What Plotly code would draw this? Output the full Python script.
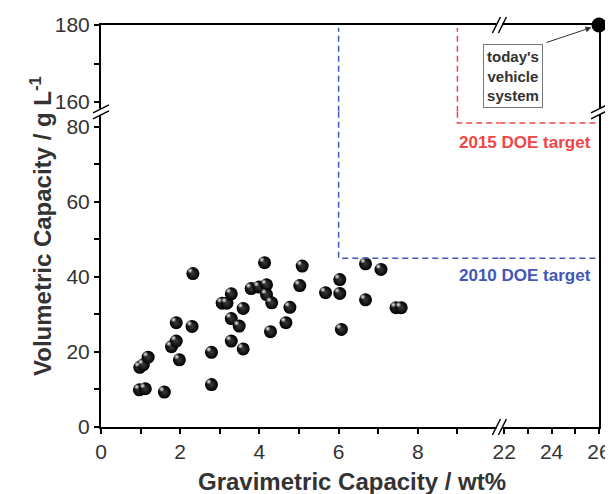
import plotly.graph_objects as go

# measured materials: gravimetric (wt%) and volumetric (g/L) capacities
grav = [0.97, 1.12, 1.60, 0.98, 1.07, 1.19, 1.78, 1.90, 1.98, 1.90, 2.30, 2.32,
        2.79, 2.79, 3.06, 3.18, 3.29, 3.29, 3.29, 3.49, 3.59, 3.59, 3.79, 3.99,
        4.13, 4.18, 4.18, 4.31, 4.28, 4.67, 4.77, 5.02, 5.08, 5.67, 6.03, 6.03,
        6.07, 6.68, 6.68, 7.07, 7.45, 7.58]
vol = [9.9, 10.2, 9.3, 15.9, 16.6, 18.6, 21.4, 22.9, 17.9, 27.8, 26.8, 40.9,
       19.9, 11.3, 33.0, 33.0, 35.5, 28.9, 22.9, 26.9, 31.6, 20.8, 36.9, 37.3,
       43.8, 37.9, 35.3, 33.1, 25.4, 27.8, 31.9, 37.7, 42.9, 35.8, 39.3, 35.6,
       26.0, 43.5, 33.9, 42.0, 31.8, 31.8]

vehicle = (26, 180)       # today's vehicle system
doe_2010 = (6, 45)
doe_2015 = (9, 81)

x_lo = [0, 10.06]
x_hi = [21.8, 26]
y_lo = [0, 84]
y_hi = [157.45, 180]

XB = 0.8    # x break (paper)
YB = 0.784  # y break (paper)

blue = "#4357b8"
red = "#f04646"
ink = "#333333"
font = "Liberation Sans, Arial, sans-serif"

fig = go.Figure()

# points (black spheres)
fig.add_trace(go.Scatter(
    x=grav, y=vol, mode="markers", xaxis="x", yaxis="y",
    marker=dict(size=13, color="#000000",
                gradient=dict(type="radial", color="#3a3a3a"),
                line=dict(width=0)),
    hoverinfo="x+y"))
# specular highlight: same points on a slightly shifted overlay axis
fig.add_trace(go.Scatter(
    x=grav, y=vol, mode="markers", xaxis="x5", yaxis="y5",
    marker=dict(size=6, color="rgba(255,255,255,0)",
                gradient=dict(type="radial", color="rgba(255,255,255,0.95)"),
                line=dict(width=0)),
    hoverinfo="skip"))

# target lines, split over the broken axes
dash_style = "6px,4px"
for (tx, ty), col in [(doe_2010, blue), (doe_2015, red)]:
    fig.add_trace(go.Scatter(x=[tx, tx, x_lo[1]], y=[y_lo[1], ty, ty], mode="lines",
                             xaxis="x", yaxis="y",
                             line=dict(color=col, width=1.5, dash=dash_style), hoverinfo="skip"))
    fig.add_trace(go.Scatter(x=[x_hi[0], x_hi[1]], y=[ty, ty], mode="lines",
                             xaxis="x2", yaxis="y2",
                             line=dict(color=col, width=1.5, dash=dash_style), hoverinfo="skip"))
    fig.add_trace(go.Scatter(x=[tx, tx], y=[y_hi[0], y_hi[1] - 0.8], mode="lines",
                             xaxis="x3", yaxis="y3",
                             line=dict(color=col, width=1.5, dash=dash_style), hoverinfo="skip"))

# today's vehicle system
fig.add_trace(go.Scatter(x=[vehicle[0]], y=[vehicle[1]], mode="markers",
                         xaxis="x4", yaxis="y4", cliponaxis=False,
                         marker=dict(size=15, color="#000000"), hoverinfo="skip"))

tickfont = dict(family=font, size=21, color=ink)
common = dict(showgrid=False, zeroline=False, linecolor="#000000", linewidth=2,
              ticklen=5, tickwidth=1.5, tickcolor="#000000", tickfont=tickfont)
minor = dict(ticklen=5, tickwidth=1.5, tickcolor="#000000", ticks="outside")
hidden = dict(visible=False, showgrid=False, zeroline=False)

# page body has an 8px margin, so the figure is 8px smaller and shifted
fig.update_layout(
    width=605, height=486,
    margin=dict(l=93, r=14, t=17, b=67, autoexpand=False),
    paper_bgcolor="white", plot_bgcolor="white",
    showlegend=False,
    xaxis=dict(domain=[0, XB], range=x_lo, anchor="y", showline=True, ticks="outside",
               tickvals=[0, 2, 4, 6, 8], minor=dict(tickvals=[1, 3, 5, 7, 9], **minor),
               **common),
    yaxis=dict(domain=[0, YB], range=y_lo, anchor="x", showline=True, ticks="outside",
               tickvals=[0, 20, 40, 60, 80], minor=dict(tickvals=[10, 30, 50, 70], **minor),
               **common),
    xaxis2=dict(domain=[XB, 1], range=x_hi, anchor="y2", showline=True, ticks="outside",
                tickvals=[22, 24, 26], minor=dict(tickvals=[23, 25], **minor), **common),
    yaxis2=dict(domain=[0, YB], range=y_lo, anchor="x2", side="right", showline=True,
                showticklabels=False, ticks="", **common),
    xaxis3=dict(domain=[0, XB], range=x_lo, anchor="y3", side="top", showline=True,
                showticklabels=False, ticks="", **common),
    yaxis3=dict(domain=[YB, 1], range=y_hi, anchor="x3", showline=True, ticks="outside",
                tickvals=[160, 180], minor=dict(tickvals=[170], **minor), **common),
    xaxis4=dict(domain=[XB, 1], range=x_hi, anchor="y4", side="top", showline=True,
                showticklabels=False, ticks="", **common),
    yaxis4=dict(domain=[YB, 1], range=y_hi, anchor="x4", side="right", showline=True,
                showticklabels=False, ticks="", **common),
    xaxis5=dict(overlaying="x", range=[x_lo[0] + 0.07, x_lo[1] + 0.07], **hidden),
    yaxis5=dict(overlaying="y", range=[y_lo[0] - 0.8, y_lo[1] - 0.8], **hidden),
)

# axis titles
fig.add_annotation(text="<b>Gravimetric Capacity / wt%</b>", xref="paper", yref="paper",
                   x=0.504, y=0, yshift=-54, showarrow=False, xanchor="center", yanchor="middle",
                   font=dict(family=font, size=24, color=ink))
fig.add_annotation(text="<b>Volumetric Capacity / g L<sup>-1</sup></b>", xref="paper", yref="paper",
                   x=0, xshift=-60, y=0.5, showarrow=False, textangle=-90,
                   xanchor="center", yanchor="middle",
                   font=dict(family=font, size=24, color=ink))

# target labels
fig.add_annotation(text="<b>2015 DOE target</b>", xref="paper", yref="paper",
                   x=0.988, y=0.708, xanchor="right", yanchor="middle", showarrow=False,
                   font=dict(family=font, size=17, color=red))
fig.add_annotation(text="<b>2010 DOE target</b>", xref="paper", yref="paper",
                   x=0.988, y=0.376, xanchor="right", yanchor="middle", showarrow=False,
                   font=dict(family=font, size=17, color=blue))

# vehicle label box and arrow
fig.add_annotation(text="<b>today's<br>vehicle<br>system</b>", xref="paper", yref="paper",
                   x=0.828, y=0.873, xanchor="center", yanchor="middle",
                   showarrow=False, align="center",
                   bordercolor="#777777", borderwidth=1, borderpad=3, bgcolor="white",
                   font=dict(family=font, size=15, color=ink))
fig.add_annotation(text="", x=vehicle[0], y=vehicle[1], xref="x4", yref="y4",
                   ax=-54, ay=18, showarrow=True, arrowhead=2, arrowsize=1.2,
                   arrowwidth=1, arrowcolor="#333333", standoff=8)

# axis break marks
def brk(xa, ya, vertical):
    shapes = []
    if vertical:
        shapes.append(dict(type="line", xref="paper", yref="paper", xsizemode="pixel",
                           ysizemode="pixel", xanchor=xa, yanchor=ya,
                           x0=0, x1=0, y0=-3, y1=3, line=dict(color="white", width=4)))
        for d in (-3, 3):
            shapes.append(dict(type="line", xref="paper", yref="paper", xsizemode="pixel",
                               ysizemode="pixel", xanchor=xa, yanchor=ya,
                               x0=-8, x1=8, y0=d - 4, y1=d + 4,
                               line=dict(color="#000000", width=1.5)))
    else:
        shapes.append(dict(type="line", xref="paper", yref="paper", xsizemode="pixel",
                           ysizemode="pixel", xanchor=xa, yanchor=ya,
                           x0=-3, x1=3, y0=0, y1=0, line=dict(color="white", width=4)))
        for d in (-3, 3):
            shapes.append(dict(type="line", xref="paper", yref="paper", xsizemode="pixel",
                               ysizemode="pixel", xanchor=xa, yanchor=ya,
                               x0=d - 4, x1=d + 4, y0=-8, y1=8,
                               line=dict(color="#000000", width=1.5)))
    return shapes

shapes = []
shapes += brk(XB, 0, False)
shapes += brk(XB, 1, False)
shapes += brk(0, YB, True)
shapes += brk(1, YB, True)
fig.update_layout(shapes=shapes)

fig.write_html("out.html")
